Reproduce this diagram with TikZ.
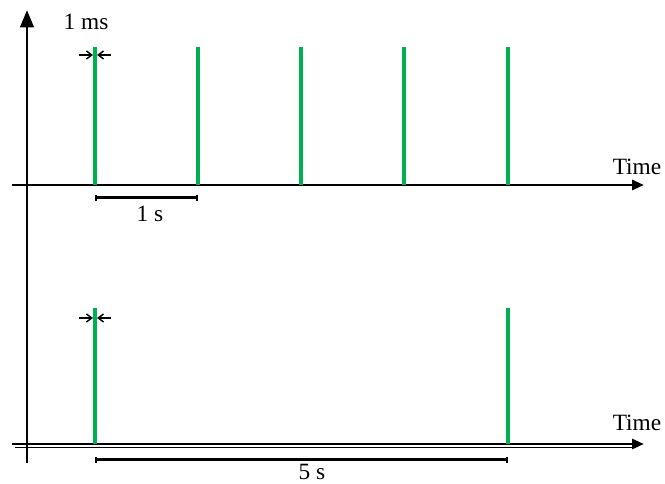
\documentclass[tikz,border=0pt]{standalone}
\usepackage{fontspec}
\setmainfont{Liberation Serif}
\usetikzlibrary{arrows.meta}
\definecolor{pulsegreen}{RGB}{0,176,80}
\begin{document}
\begin{tikzpicture}[x=0.75pt,y=-0.75pt,
  axis/.style={line width=2.2pt,-{Triangle[length=9pt,width=7.5pt]}},
  pulse/.style={pulsegreen,line width=2.8pt},
  span/.style={line width=2.25pt,{Bar[width=5pt,line width=1.8pt]}-{Bar[width=5pt,line width=1.8pt]}},
  tick/.style={line width=1.1pt,-{Straight Barb[length=4pt,width=6pt]}},
  lbl/.style={font=\fontsize{17.5}{20}\selectfont,inner sep=0pt}]
\useasboundingbox (0,0) rectangle (665,484);
% vertical axis
\coordinate (vb) at (27,463);
\coordinate (vt) at (27,10);
\draw[line width=2.2pt,-{Triangle[length=13pt,width=10pt]}] (vb) -- (vt);
% top axis
\coordinate (ta) at (12,185);
\coordinate (tb) at (644,185);
\draw[axis] (ta) -- (tb);
\node[lbl] (time1) at (637,167) {Time};
% top pulses
\foreach \i/\x in {1/95,2/198,3/301,4/404,5/508}{
  \coordinate (p\i t) at (\x,47);
  \coordinate (p\i b) at (\x,185);
  \draw[pulse] (p\i b) -- (p\i t);
}
% 1 ms marker
\node[lbl] (ms) at (86,22) {1 ms};
\coordinate (mla) at (79,55);
\coordinate (mlb) at (93,55);
\coordinate (mra) at (111,55);
\coordinate (mrb) at (97,55);
\draw[tick] (mla) -- (mlb);
\draw[tick] (mra) -- (mrb);
% 1 s span
\coordinate (s1a) at (95,198);
\coordinate (s1b) at (198,198);
\draw[span] (s1a) -- (s1b);
\node[lbl] (one) at (150,214) {1 s};
% bottom axis (double)
\coordinate (ba) at (12,444);
\coordinate (bb) at (644,444);
\coordinate (bc) at (15,447.5);
\coordinate (bd) at (636,447.5);
\draw[line width=1.2pt] (bc) -- (bd);
\draw[axis] (ba) -- (bb);
\node[lbl] (time2) at (637,423) {Time};
% bottom pulses
\foreach \i/\x in {6/95,7/508}{
  \coordinate (p\i t) at (\x,308);
  \coordinate (p\i b) at (\x,444);
  \draw[pulse] (p\i b) -- (p\i t);
}
\coordinate (nla) at (79,318);
\coordinate (nlb) at (93,318);
\coordinate (nra) at (111,318);
\coordinate (nrb) at (97,318);
\draw[tick] (nla) -- (nlb);
\draw[tick] (nra) -- (nrb);
% 5 s span
\coordinate (s5a) at (95,460);
\coordinate (s5b) at (508,460);
\draw[span] (s5a) -- (s5b);
\node[lbl] (five) at (312,472) {5 s};
\end{tikzpicture}
\end{document}
